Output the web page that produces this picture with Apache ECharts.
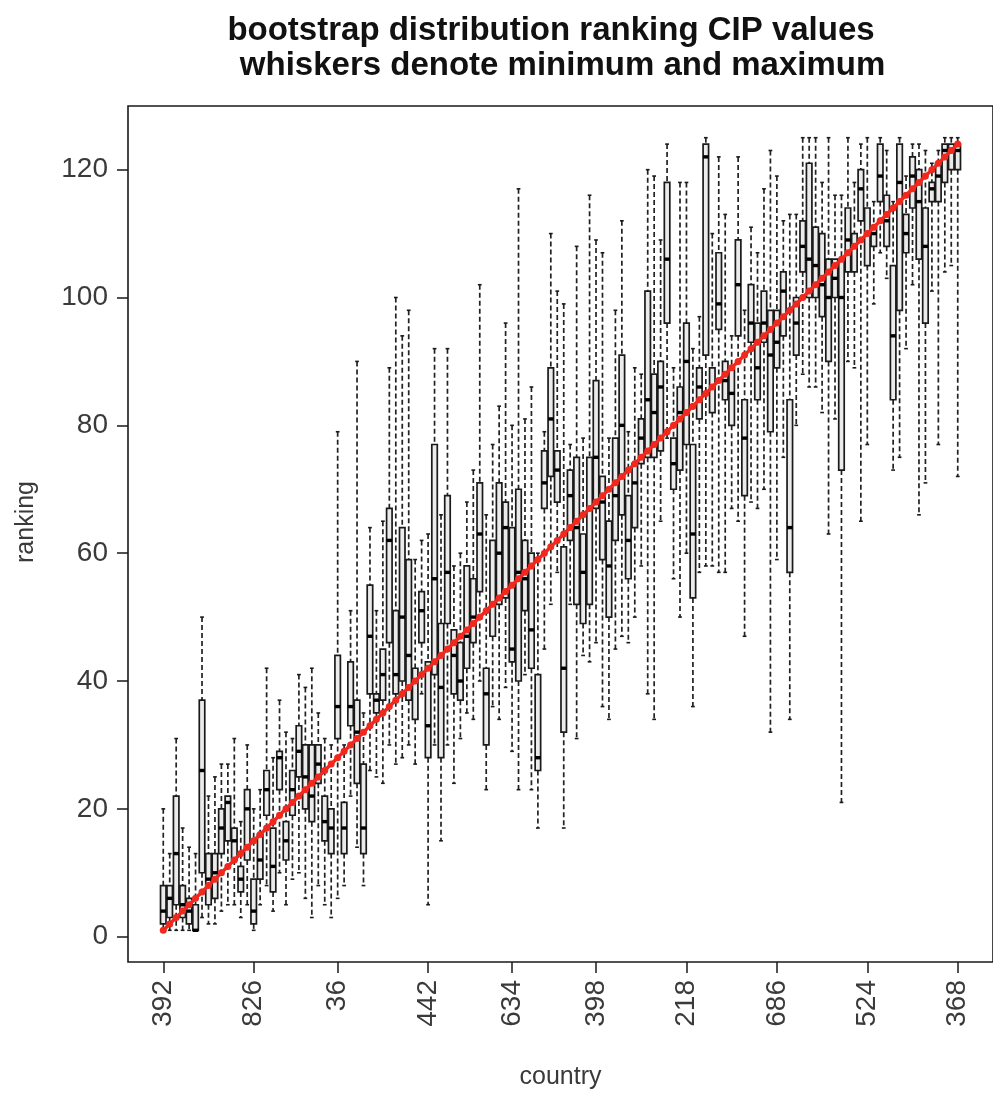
<!DOCTYPE html>
<html>
<head>
<meta charset="utf-8">
<title>bootstrap distribution ranking CIP values</title>
<script src="https://cdn.jsdelivr.net/npm/echarts@6/dist/echarts.min.js"></script>
<style>
  html, body { margin: 0; padding: 0; background: #ffffff; }
  #chart { width: 993px; height: 1095px; }
</style>
</head>
<body>
<div id="chart"></div>
<script>
// Country codes printed under the axis and the box slot each one sits under
const countryLabels = ['392', '826', '36', '442', '634', '398', '218', '686', '524', '368'];
const labelSlots = [1, 15, 28, 42, 55, 68, 82, 96, 110, 124];
const rankTicks = [0, 20, 40, 60, 80, 100, 120];

// Observed CIP ranking of each country (countries are ordered by it)
const observedRank = [
  1, 2, 3, 4, 5, 6, 7, 8, 9, 10, 11, 12, 13, 14, 15, 16, 17, 18, 19, 20,
  21, 22, 23, 24, 25, 26, 27, 28, 29, 30, 31, 32, 33, 34, 35, 36, 37, 38, 39, 40,
  41, 42, 43, 44, 45, 46, 47, 48, 49, 50, 51, 52, 53, 54, 55, 56, 57, 58, 59, 60,
  61, 62, 63, 64, 65, 66, 67, 68, 69, 70, 71, 72, 73, 74, 75, 76, 77, 78, 79, 80,
  81, 82, 83, 84, 85, 86, 87, 88, 89, 90, 91, 92, 93, 94, 95, 96, 97, 98, 99, 100,
  101, 102, 103, 104, 105, 106, 107, 108, 109, 110, 111, 112, 113, 114, 115, 116, 117, 118, 119, 120,
  121, 122, 123, 124
];

// Bootstrap ranking distribution per country: minimum, quartiles, median, maximum
const rankMin = [
  1, 1, 1, 1, 1, 1, 3, 2, 2, 4, 5, 5, 3, 5, 1, 5, 8, 4, 10, 5,
  9, 10, 6, 3, 8, 5, 3, 6, 8, 22, 14, 8, 26, 25, 24, 30, 27, 28, 30, 27,
  38, 5, 30, 15, 30, 24, 31, 35, 34, 40, 23, 36, 34, 39, 29, 23, 41, 23, 17, 45,
  52, 57, 17, 52, 31, 44, 43, 46, 36, 34, 45, 47, 46, 50, 58, 38, 34, 65, 78, 56,
  50, 60, 36, 57, 58, 58, 57, 57, 67, 65, 47, 68, 67, 70, 32, 59, 75, 34, 80, 88,
  86, 86, 82, 63, 81, 21, 90, 89, 65, 77, 99, 107, 103, 73, 75, 92, 102, 66, 71, 101,
  77, 104, 105, 72
];
const rankQ1 = [
  2, 3, 5, 3, 2, 1, 10, 5, 6, 13, 15, 12, 7, 12, 2, 9, 19, 7, 23, 12,
  19, 25, 20, 18, 24, 15, 13, 31, 13, 33, 24, 13, 38, 35, 37, 46, 38, 40, 37, 34,
  46, 28, 41, 28, 49, 38, 37, 42, 46, 54, 30, 47, 52, 53, 43, 40, 51, 42, 26, 67,
  72, 68, 32, 62, 52, 49, 52, 67, 59, 50, 62, 66, 56, 64, 74, 75, 75, 76, 96, 70,
  73, 77, 53, 81, 91, 82, 95, 84, 80, 94, 69, 93, 84, 93, 79, 89, 94, 57, 91, 104,
  100, 100, 97, 90, 100, 73, 104, 104, 112, 105, 108, 115, 108, 84, 98, 107, 114, 106, 96, 115,
  115, 118, 120, 120
];
const rankMedian = [
  4, 6, 13, 5, 4, 1, 26, 9, 10, 17, 21, 15, 9, 20, 4, 12, 23, 11, 28, 15,
  23, 29, 25, 22, 27, 18, 17, 36, 17, 36, 32, 17, 47, 37, 41, 62, 41, 50, 44, 40,
  51, 33, 56, 39, 57, 44, 40, 47, 50, 63, 38, 52, 60, 64, 45, 57, 56, 48, 28, 71,
  81, 73, 42, 69, 64, 57, 67, 75, 68, 58, 69, 80, 62, 71, 78, 84, 82, 86, 106, 74,
  82, 90, 63, 86, 122, 86, 99, 87, 85, 102, 78, 96, 89, 96, 91, 93, 101, 64, 96, 108,
  106, 105, 102, 100, 103, 100, 109, 108, 117, 110, 110, 119, 112, 94, 118, 110, 119, 115, 108, 117,
  119, 123, 123, 123
];
const rankQ3 = [
  8, 8, 22, 8, 6, 5, 37, 13, 13, 20, 22, 17, 11, 23, 9, 16, 26, 17, 29, 18,
  26, 33, 30, 30, 30, 22, 20, 44, 21, 43, 37, 27, 55, 38, 45, 67, 51, 64, 59, 42,
  54, 43, 77, 49, 69, 48, 46, 58, 56, 71, 42, 62, 71, 68, 64, 70, 62, 60, 41, 76,
  89, 76, 61, 73, 75, 63, 75, 87, 72, 65, 78, 91, 69, 74, 81, 101, 88, 90, 118, 78,
  86, 96, 77, 89, 124, 89, 107, 90, 89, 109, 84, 102, 96, 101, 98, 98, 104, 84, 100, 112,
  121, 111, 110, 106, 106, 106, 114, 110, 120, 114, 111, 124, 116, 105, 124, 113, 122, 120, 114, 118,
  121, 124, 124, 124
];
const rankMax = [
  20, 13, 31, 17, 14, 13, 50, 22, 25, 27, 27, 31, 18, 30, 20, 23, 42, 28, 37, 32,
  31, 41, 39, 42, 35, 31, 30, 79, 30, 51, 90, 35, 64, 51, 65, 89, 100, 94, 98, 59,
  62, 63, 92, 66, 92, 58, 60, 68, 73, 102, 66, 77, 83, 96, 80, 117, 81, 86, 60, 79,
  110, 101, 99, 77, 108, 78, 116, 109, 107, 78, 98, 112, 79, 89, 88, 120, 119, 109, 124, 89,
  118, 118, 92, 97, 125, 110, 122, 113, 94, 122, 98, 111, 107, 117, 123, 119, 112, 113, 113, 125,
  125, 125, 118, 125, 116, 116, 125, 118, 124, 125, 115, 125, 123, 115, 125, 119, 124, 124, 123, 121,
  123, 125, 125, 125
];

// One row per box: [slot, min, Q1, median, Q3, max]
const boxRows = observedRank.map((slot, i) =>
  [slot, rankMin[i], rankQ1[i], rankMedian[i], rankQ3[i], rankMax[i]]);
const rankPoints = observedRank.map((r, i) => [i + 1, r]);

const INK = '#1a1a1a';
const BOX_WIDTH = 0.85;    // in slot units
const STAPLE_RATIO = 0.5;  // staple length relative to the box width

function drawBox(params, api) {
  const slot = api.value(0);
  const lo = api.coord([slot, api.value(1)]);
  const q1 = api.coord([slot, api.value(2)]);
  const md = api.coord([slot, api.value(3)]);
  const q3 = api.coord([slot, api.value(4)]);
  const hi = api.coord([slot, api.value(5)]);
  const w = api.size([BOX_WIDTH, 0])[0];
  const x = lo[0];
  const half = w / 2;
  const staple = w * STAPLE_RATIO / 2 + 0.5;
  const dash = { stroke: '#222', lineWidth: 1.7, lineDash: [5, 3] };
  const solid = { stroke: INK, lineWidth: 1.6 };
  return {
    type: 'group',
    children: [
      { type: 'line', shape: { x1: x, y1: hi[1], x2: x, y2: q3[1] }, style: dash },
      { type: 'line', shape: { x1: x, y1: q1[1], x2: x, y2: lo[1] }, style: dash },
      { type: 'line', shape: { x1: x - staple, y1: hi[1], x2: x + staple, y2: hi[1] }, style: solid },
      { type: 'line', shape: { x1: x - staple, y1: lo[1], x2: x + staple, y2: lo[1] }, style: solid },
      { type: 'rect', shape: { x: x - half, y: q3[1], width: w, height: q1[1] - q3[1] },
        style: { fill: '#ebebeb', stroke: INK, lineWidth: 1.7 } },
      { type: 'line', shape: { x1: x - half, y1: md[1], x2: x + half, y2: md[1] },
        style: { stroke: '#000', lineWidth: 3.4 } }
    ]
  };
}

const FONT = '"Liberation Sans", Arial, sans-serif';
const chart = echarts.init(document.getElementById('chart'), null, { renderer: 'canvas' });

chart.setOption({
  animation: false,
  backgroundColor: '#ffffff',
  graphic: [
    { type: 'text', x: 551, y: 31,
      style: { text: 'bootstrap distribution ranking CIP values', font: 'bold 33px ' + FONT,
               fill: '#111', textAlign: 'center', textVerticalAlign: 'middle' } },
    { type: 'text', x: 558, y: 66,
      style: { text: ' whiskers denote minimum and maximum', font: 'bold 33px ' + FONT,
               fill: '#111', textAlign: 'center', textVerticalAlign: 'middle' } },
    { type: 'text', x: 26, y: 522, rotation: Math.PI / 2,
      style: { text: 'ranking', font: '25px ' + FONT, fill: '#3a3a3a',
               textAlign: 'center', textVerticalAlign: 'middle' } }
  ],
  grid: {
    left: 128, top: 106, width: 884, height: 861,
    show: true, borderColor: INK, borderWidth: 1.6, backgroundColor: 'transparent'
  },
  xAxis: {
    type: 'value', min: -4.46, max: 129.46,
    name: 'country', nameLocation: 'middle', nameGap: 103,
    nameTextStyle: { fontFamily: FONT, fontSize: 25, color: '#3a3a3a' },
    axisLine: { show: false, onZero: false },
    splitLine: { show: false },
    axisTick: { show: true, length: 11, customValues: labelSlots,
                lineStyle: { color: INK, width: 1.5 } },
    axisLabel: {
      customValues: labelSlots, rotate: 90, margin: 18,
      fontFamily: FONT, fontSize: 28, color: '#3a3a3a',
      formatter: v => countryLabels[labelSlots.indexOf(v)]
    }
  },
  yAxis: {
    type: 'value', min: -3.96, max: 129.96,
    axisLine: { show: false, onZero: false },
    splitLine: { show: false },
    axisTick: { show: true, length: 11, customValues: rankTicks,
                lineStyle: { color: INK, width: 1.5 } },
    axisLabel: {
      customValues: rankTicks, margin: 20,
      fontFamily: FONT, fontSize: 28, color: '#3a3a3a'
    }
  },
  series: [
    {
      type: 'custom', name: 'bootstrap ranks',
      renderItem: drawBox,
      encode: { x: 0, y: [1, 2, 3, 4, 5] },
      data: boxRows, z: 2
    },
    {
      type: 'line', name: 'observed rank',
      data: rankPoints, z: 5,
      symbol: 'circle', symbolSize: 7, showSymbol: true,
      lineStyle: { color: '#f0281e', width: 3.5 },
      itemStyle: { color: '#f0281e' }
    }
  ]
});
</script>
</body>
</html>
